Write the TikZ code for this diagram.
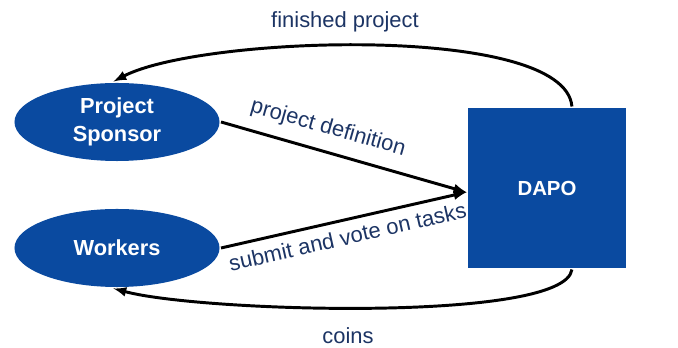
\documentclass[tikz,border=0pt]{standalone}
\usepackage{fontspec}
\setmainfont{Liberation Sans}
\usetikzlibrary{shapes.geometric}
\definecolor{dapoblue}{RGB}{10,74,160}
\definecolor{labelnavy}{RGB}{28,52,100}
\begin{document}
\begin{tikzpicture}[x=0.025cm, y=0.025cm, -latex, line width=2.1pt, auto]
	\tikzstyle{party} = [ellipse, fill=dapoblue, text=white, font=\fontsize{15.5}{19.5}\selectfont\bfseries, align=center, inner sep=0pt, minimum width=5.125cm, minimum height=1.95cm]
	\tikzstyle{org} = [rectangle, fill=dapoblue, text=white, font=\fontsize{14.5}{18}\selectfont\bfseries, minimum width=3.95cm, minimum height=4cm]
	\tikzstyle{flow} = [text=labelnavy, font=\fontsize{15.6}{18}\selectfont]
	\useasboundingbox (0,0) rectangle (678,348);
	\node[party](sponsor) at (117,226) {Project\\Sponsor};
	\node[party](workers) at (117,100) {Workers};
	\node[org](dapo) at (547,160) {DAPO};
	\node[flow](finished) at (345,326) {finished project};
	\node[flow](coins) at (348,12) {coins};
	\path  (sponsor.east) edge node[flow, sloped, above=5pt, pos=0.41] {project definition} (dapo.183);
	\path  (workers.east) edge node[flow, sloped, below=2pt, pos=0.5] {submit and vote on tasks} (dapo.183);
	\draw  (dapo.73) .. controls (565,325) and (200,312) .. (sponsor.95);
	\draw  (dapo.-73) .. controls (565,25) and (200,36) .. (workers.-95);
\end{tikzpicture}
\end{document}
